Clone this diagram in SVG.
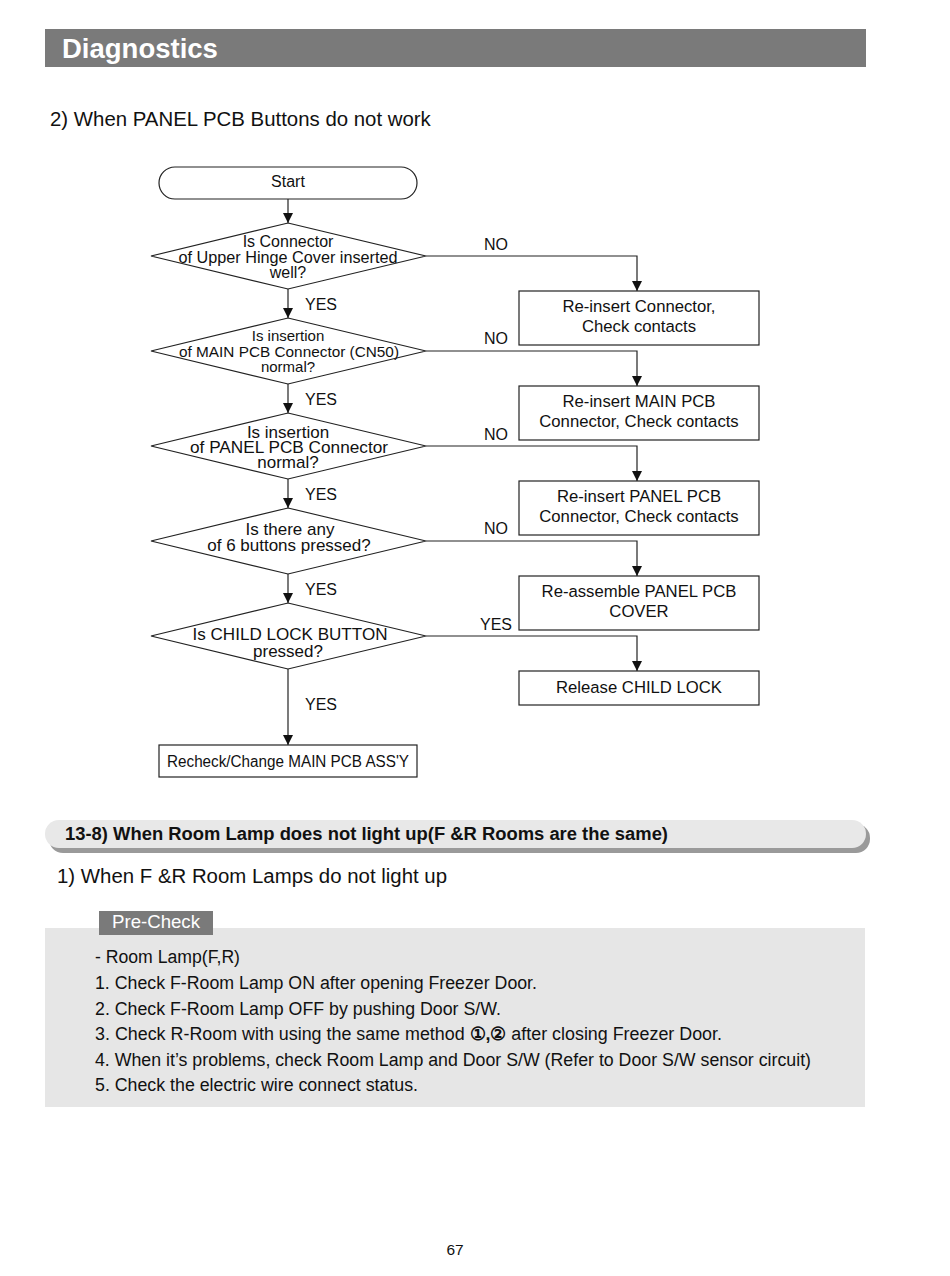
<svg xmlns="http://www.w3.org/2000/svg" width="950" height="1276" viewBox="0 0 950 1276">
<style>
text{font-family:"Liberation Sans",Arial,sans-serif;fill:#111}
.n{fill:#fff;stroke:#222;stroke-width:1.2}
.t{font-size:17px;text-anchor:middle}
.b{font-size:16.7px;text-anchor:middle}
.l{font-size:16px}
.c{fill:none;stroke:#222;stroke-width:1.2}
.li{font-size:18px}
</style>
<defs>
<marker id="ah" viewBox="0 0 10 14" refX="10" refY="7" markerWidth="10" markerHeight="14" markerUnits="userSpaceOnUse" orient="auto">
<path d="M0,2 L10,7 L0,12 Z" fill="#111"/>
</marker>
</defs>
<rect width="950" height="1276" fill="#fff"/>
<rect x="45" y="29" width="821" height="38" fill="#7a7a7a"/>
<text x="62" y="58" style="font-size:27.5px;font-weight:bold;fill:#fff">Diagnostics</text>
<text x="50" y="126" style="font-size:20.4px">2) When PANEL PCB Buttons do not work</text>

<g id="connectors">
<path class="c" d="M288,199 V223" marker-end="url(#ah)"/>
<path class="c" d="M288,289 V318" marker-end="url(#ah)"/>
<path class="c" d="M288,384 V413" marker-end="url(#ah)"/>
<path class="c" d="M288,479 V508" marker-end="url(#ah)"/>
<path class="c" d="M288,574 V603" marker-end="url(#ah)"/>
<path class="c" d="M288,669 V745" marker-end="url(#ah)"/>
<path class="c" d="M426,256 H637 V291" marker-end="url(#ah)"/>
<path class="c" d="M426,351 H637 V386" marker-end="url(#ah)"/>
<path class="c" d="M426,446 H637 V481" marker-end="url(#ah)"/>
<path class="c" d="M426,541 H637 V576" marker-end="url(#ah)"/>
<path class="c" d="M426,636 H637 V671" marker-end="url(#ah)"/>
<text class="l" x="305" y="310">YES</text>
<text class="l" x="305" y="405">YES</text>
<text class="l" x="305" y="500">YES</text>
<text class="l" x="305" y="595">YES</text>
<text class="l" x="305" y="710">YES</text>
<text class="l" x="484" y="250">NO</text>
<text class="l" x="484" y="344">NO</text>
<text class="l" x="484" y="440">NO</text>
<text class="l" x="484" y="534">NO</text>
<text class="l" x="480" y="630">YES</text>
</g>

<g id="start">
<rect class="n" x="159" y="167" width="258" height="32" rx="16"/>
<text class="t" x="288" y="187" style="font-size:16px">Start</text>
</g>
<g id="d1">
<polygon class="n" points="288,223 426,256 288,289 151,256"/>
<text class="t" x="288" y="247" style="font-size:16px">Is Connector</text>
<text class="t" x="288" y="263" textLength="219" lengthAdjust="spacingAndGlyphs" style="font-size:16px">of Upper Hinge Cover inserted</text>
<text class="t" x="288" y="278" style="font-size:16px">well?</text>
</g>
<g id="d2">
<polygon class="n" points="288,318 426,351 288,384 151,351"/>
<text class="t" x="288" y="341" style="font-size:15px">Is insertion</text>
<text class="t" x="289" y="357" textLength="220" lengthAdjust="spacingAndGlyphs" style="font-size:15px">of MAIN PCB Connector (CN50)</text>
<text class="t" x="288" y="372" style="font-size:15px">normal?</text>
</g>
<g id="d3">
<polygon class="n" points="288,413 426,446 288,479 151,446"/>
<text class="t" x="288" y="438">Is insertion</text>
<text class="t" x="289" y="453" textLength="198" lengthAdjust="spacingAndGlyphs">of PANEL PCB Connector</text>
<text class="t" x="288" y="468">normal?</text>
</g>
<g id="d4">
<polygon class="n" points="288,508 426,541 288,574 151,541"/>
<text class="t" x="290" y="535">Is there any</text>
<text class="t" x="289" y="551">of 6 buttons pressed?</text>
</g>
<g id="d5">
<polygon class="n" points="288,603 426,636 288,669 151,636"/>
<text class="t" x="290" y="640" textLength="195" lengthAdjust="spacingAndGlyphs">Is CHILD LOCK BUTTON</text>
<text class="t" x="288" y="657">pressed?</text>
</g>
<g id="r1">
<rect class="n" x="519" y="291" width="240" height="54"/>
<text class="b" x="639" y="312">Re-insert Connector,</text>
<text class="b" x="639" y="332">Check contacts</text>
</g>
<g id="r2">
<rect class="n" x="519" y="386" width="240" height="54"/>
<text class="b" x="639" y="407">Re-insert MAIN PCB</text>
<text class="b" x="639" y="427">Connector, Check contacts</text>
</g>
<g id="r3">
<rect class="n" x="519" y="481" width="240" height="54"/>
<text class="b" x="639" y="502">Re-insert PANEL PCB</text>
<text class="b" x="639" y="522">Connector, Check contacts</text>
</g>
<g id="r4">
<rect class="n" x="519" y="576" width="240" height="54"/>
<text class="b" x="639" y="597">Re-assemble PANEL PCB</text>
<text class="b" x="639" y="617">COVER</text>
</g>
<g id="r5">
<rect class="n" x="519" y="671" width="240" height="34"/>
<text class="b" x="639" y="693">Release CHILD LOCK</text>
</g>
<g id="end">
<rect class="n" x="159" y="745" width="258" height="32"/>
<text class="t" x="288" y="767" textLength="242" lengthAdjust="spacingAndGlyphs" style="font-size:16px">Recheck/Change MAIN PCB ASS'Y</text>
</g>

<rect x="49" y="824" width="821" height="29" rx="14" fill="#9a9a9a"/>
<rect x="45" y="820" width="821" height="28" rx="14" fill="#e8e8e8"/>
<text x="65" y="840" textLength="603" lengthAdjust="spacingAndGlyphs" style="font-size:18px;font-weight:bold">13-8) When Room Lamp does not light up(F &amp;R Rooms are the same)</text>
<text x="57" y="883" textLength="390" lengthAdjust="spacingAndGlyphs" style="font-size:19.5px">1) When F &amp;R Room Lamps do not light up</text>

<rect x="45" y="928" width="820" height="179" fill="#e6e6e6"/>
<rect x="99" y="911" width="114" height="24" fill="#7a7a7a"/>
<text x="156" y="928" textLength="88" lengthAdjust="spacingAndGlyphs" style="font-size:18px;fill:#fff;text-anchor:middle">Pre-Check</text>
<text class="li" x="95" y="963" textLength="145" lengthAdjust="spacingAndGlyphs">- Room Lamp(F,R)</text>
<text class="li" x="95" y="989" textLength="442" lengthAdjust="spacingAndGlyphs">1. Check F-Room Lamp ON after opening Freezer Door.</text>
<text class="li" x="95" y="1015" textLength="406" lengthAdjust="spacingAndGlyphs">2. Check F-Room Lamp OFF by pushing Door S/W.</text>
<text class="li" x="95" y="1040" textLength="627" lengthAdjust="spacingAndGlyphs">3. Check R-Room with using the same method <tspan style="font-weight:bold">①,②</tspan> after closing Freezer Door.</text>
<text class="li" x="95" y="1066" textLength="716" lengthAdjust="spacingAndGlyphs">4. When it’s problems, check Room Lamp and Door S/W (Refer to Door S/W sensor circuit)</text>
<text class="li" x="95" y="1091" textLength="323" lengthAdjust="spacingAndGlyphs">5. Check the electric wire connect status.</text>
<text x="455" y="1255" style="font-size:15.5px;text-anchor:middle">67</text>
</svg>
